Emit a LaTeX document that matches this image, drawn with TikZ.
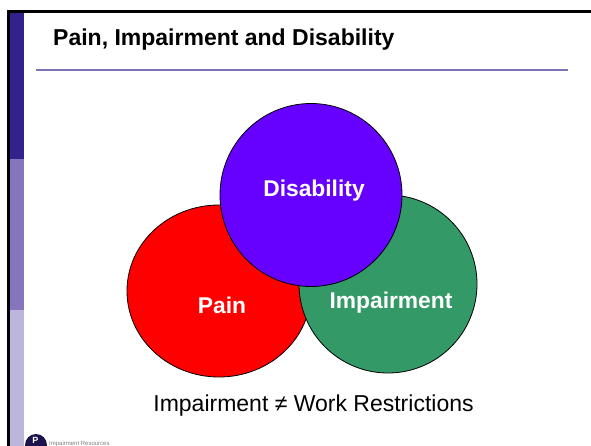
\documentclass[tikz,border=0pt]{standalone}
\usepackage{fontspec}
\setmainfont{Liberation Sans}
\definecolor{bardark}{HTML}{33228B}
\definecolor{barmid}{HTML}{8674BC}
\definecolor{barlight}{HTML}{BBB7DC}
\definecolor{rulecol}{HTML}{7F72B4}
\definecolor{blobred}{HTML}{FF0000}
\definecolor{blobgreen}{HTML}{339966}
\definecolor{blobviolet}{HTML}{6600FF}
\tikzset{
  blob/.style={draw=black,line width=0.8pt},
  blobtext/.style={text=white,font=\bfseries\fontsize{22.8}{26}\selectfont},
}
\begin{document}
\begin{tikzpicture}[x=1pt,y=-1pt]
\useasboundingbox (0,0) rectangle (591,446);
\fill[white] (0,0) rectangle (591,446);
% side bar
\fill[bardark] (9,12) rectangle (24,159);
\fill[barmid] (9,159) rectangle (24,310);
\fill[barlight] (9,310) rectangle (24,446);
\fill[black] (6.5,10) rectangle (9.5,446);
\fill[black] (6.5,10) rectangle (591,13);
% title
\node[anchor=base west,inner sep=0pt,font=\bfseries\fontsize{23}{26}\selectfont] (title) at (53,45.5) {Pain, Impairment and Disability};
\coordinate (ruleL) at (36,70);
\coordinate (ruleR) at (568,70);
\draw[rulecol,line width=1.2pt] (ruleL) -- (ruleR);
% circles
\draw[blob,fill=blobred] (219,291) ellipse [x radius=92,y radius=86];
\draw[blob,fill=blobgreen] (388,284) ellipse [x radius=89,y radius=89];
\draw[blob,fill=blobviolet] (311,195) ellipse [x radius=91,y radius=91.5];
\node[blobtext] (pain) at (222,305) {Pain};
\node[blobtext] (imp) at (391,302.5) {Impairment};
\node[blobtext] (dis) at (314,190.5) {Disability};
\node[inner sep=0pt,font=\fontsize{23}{26}\selectfont] (foot) at (313.5,406) {Impairment ≠ Work Restrictions};
% logo
\fill[bardark!55!black] (36,445) circle (11);
\node[white,font=\bfseries\fontsize{9}{9}\selectfont,inner sep=0pt] (logoP) at (35.5,440.5) {P};
\node[anchor=base west,inner sep=0pt,text=black!50,font=\fontsize{6}{6}\selectfont] (logoT) at (49,445) {Impairment Resources};
\end{tikzpicture}
\end{document}
